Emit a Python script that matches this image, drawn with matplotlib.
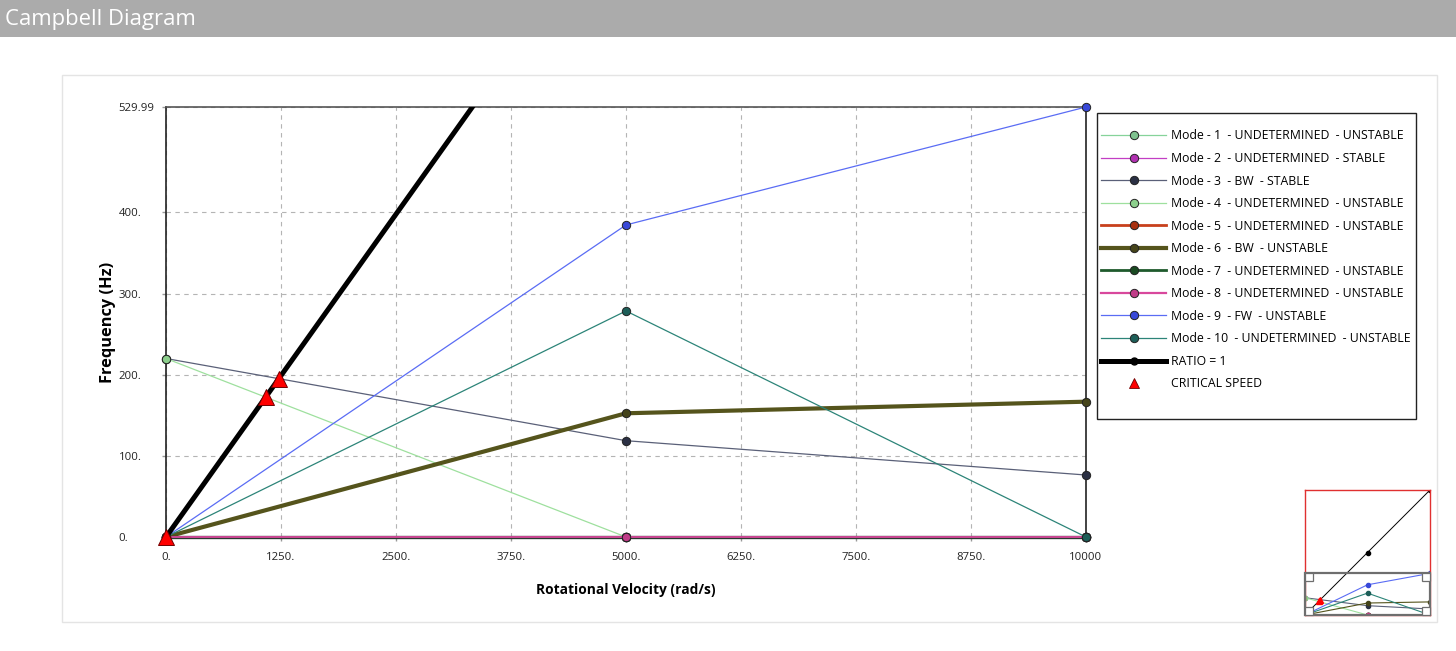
import matplotlib
matplotlib.use('Agg')
import matplotlib.pyplot as plt
from matplotlib.patches import Rectangle
from matplotlib.lines import Line2D

# Campbell diagram values (rad/s, Hz)
speeds = [0, 5000, 10000]
mode1 = [0.0, 0.0, 0.0]
mode2 = [0.0, 0.0, 0.0]
mode3 = [220.0, 118.7, 76.4]
mode4 = [220.0, 0.0, 0.0]
mode5 = [0.0, 0.0, 0.0]
mode6 = [0.0, 152.5, 166.8]
mode7 = [0.0, 0.0, 0.0]
mode8 = [0.0, 0.0, 0.0]
mode9 = [0.0, 384.6, 529.99]
mode10 = [0.0, 278.6, 0.0]
ratio1 = [0.0, 795.77, 1591.55]
crit_speed = [0, 1083, 1226]
crit_freq = [0.0, 172.4, 195.2]

mode_labels = [
    'Mode - 1  - UNDETERMINED  - UNSTABLE',
    'Mode - 2  - UNDETERMINED  - STABLE',
    'Mode - 3  - BW  - STABLE',
    'Mode - 4  - UNDETERMINED  - UNSTABLE',
    'Mode - 5  - UNDETERMINED  - UNSTABLE',
    'Mode - 6  - BW  - UNSTABLE',
    'Mode - 7  - UNDETERMINED  - UNSTABLE',
    'Mode - 8  - UNDETERMINED  - UNSTABLE',
    'Mode - 9  - FW  - UNSTABLE',
    'Mode - 10  - UNDETERMINED  - UNSTABLE',
]
modes = [mode1, mode2, mode3, mode4, mode5, mode6, mode7, mode8, mode9, mode10]

x_ticks = [0, 1250, 2500, 3750, 5000, 6250, 7500, 8750, 10000]
x_ticklabels = ['0.', '1250.', '2500.', '3750.', '5000.', '6250.', '7500.', '8750.', '10000']
y_ticks = [0, 100, 200, 300, 400, 529.99]
y_ticklabels = ['0.', '100.', '200.', '300.', '400.', '529.99']

# line colour, marker colour, line width
styles = [
    ('#86d39a', '#7fc28f', 0.9),
    ('#c23ec4', '#b030b0', 0.9),
    ('#5a6078', '#2b3044', 0.9),
    ('#9ee09e', '#8ccf8c', 0.9),
    ('#c8401c', '#a83010', 2.0),
    ('#55541c', '#45441a', 3.0),
    ('#1e5a2c', '#1a4a22', 2.0),
    ('#d8489c', '#c03c88', 1.6),
    ('#5a6cf4', '#3848d8', 0.9),
    ('#2c8478', '#1d5e58', 0.9),
]

plt.rcParams['font.family'] = ['Open Sans', 'DejaVu Sans']

W, H = 1456, 651
fig = plt.figure(figsize=(W / 100, H / 100), dpi=100)

def fx(px):
    return px / W

def fy(py):
    return 1 - py / H

# header bar
fig.patches.append(Rectangle((0, fy(37)), 1, 37 / H, transform=fig.transFigure,
                             facecolor='#ababab', edgecolor='none', zorder=-2))
fig.text(fx(5), fy(19), 'Campbell Diagram', color='white', fontsize=15.9,
         va='center', ha='left')

# outer panel
fig.patches.append(Rectangle((fx(62), fy(622)), fx(1437 - 62), (622 - 75) / H,
                             transform=fig.transFigure, facecolor='white',
                             edgecolor='#e4e4e4', lw=1, zorder=-2))

ax = fig.add_axes([fx(166), fy(537), fx(920), (537 - 107) / H])
ax.set_facecolor('none')

for i, (m, (lc, mc, lw)) in enumerate(zip(modes, styles)):
    if i == 6:
        lc, lw = '#2a3a30', 2.4
    if i == 7:
        lw = 1.3
    ax.plot(speeds, m, color=lc, lw=lw, marker='o', markersize=6,
            markerfacecolor=mc, markeredgecolor='#222222', markeredgewidth=0.7,
            zorder=3, clip_on=False)
ax.plot(speeds, ratio1, color='black', lw=3.6, zorder=4)
ax.plot(crit_speed, crit_freq, linestyle='none', marker='^', markersize=12,
        markerfacecolor='#ff0000', markeredgecolor='#700000',
        markeredgewidth=0.7, zorder=5, clip_on=False)

ax.set_xlim(0, 10000)
ax.set_ylim(0, 529.99)
ax.set_xticks(x_ticks)
ax.set_xticklabels(x_ticklabels)
ax.set_yticks(y_ticks)
ax.set_yticklabels(y_ticklabels, ha='left')
ax.tick_params(axis='both', labelsize=8.2, colors='#999999', labelcolor='#222222',
               length=3, width=1)
ax.tick_params(axis='x', pad=8)
ax.tick_params(axis='y', pad=31)
ax.grid(True, color='#b4b4b4', linestyle=(0, (4, 4)), lw=0.8)
for s in ax.spines.values():
    s.set_color('#222222')
    s.set_linewidth(1.2)
ax.spines['top'].set_color('#555555')
ax.set_xlabel('Rotational Velocity (rad/s)', fontsize=9.9, fontweight='bold', labelpad=14)
ax.set_ylabel('Frequency (Hz)', fontsize=11.8, fontweight='bold', va='center')
ax.yaxis.set_label_coords(-58 / 920, 0.5)

# legend
handles = []
for (lc, mc, lw) in styles:
    handles.append(Line2D([], [], color=lc, lw=lw, marker='o', markersize=6,
                          markerfacecolor=mc, markeredgecolor='#222222',
                          markeredgewidth=0.7))
handles.append(Line2D([], [], color='black', lw=3.6, marker='o', markersize=5,
                      markerfacecolor='black'))
handles.append(Line2D([], [], linestyle='none', marker='^', markersize=7,
                      markerfacecolor='#ff0000', markeredgecolor='#700000',
                      markeredgewidth=0.6))
labels = mode_labels + ['RATIO = 1', 'CRITICAL SPEED']
fig.patches.append(Rectangle((fx(1097), fy(419)), fx(1416 - 1097), (419 - 113) / H,
                             transform=fig.transFigure, facecolor='white',
                             edgecolor='#222222', lw=1, zorder=-1))
leg = fig.legend(handles, labels, loc='upper left',
                 bbox_to_anchor=(fx(1099), fy(127)), frameon=False,
                 fontsize=8.8, handlelength=5.3, handletextpad=0.4,
                 labelspacing=0.78, borderpad=0.2, borderaxespad=0)

# overview inset
ins = fig.add_axes([fx(1305), fy(615), fx(125), 125 / H])
ins.set_facecolor('none')
for m, (lc, mc, lw) in zip(modes, styles):
    ins.plot(speeds, m, color=lc, lw=0.8, marker='o', markersize=3,
             markerfacecolor=mc, markeredgecolor=mc)
ins.plot(speeds, ratio1, color='black', lw=0.7, marker='o', markersize=3)
ins.plot(crit_speed, crit_freq, linestyle='none', marker='^', markersize=4,
         color='#ff0000')
ins.set_xlim(0, 10000)
ins.set_ylim(0, 1591.55)
ins.set_xticks([])
ins.set_yticks([])
for s in ins.spines.values():
    s.set_color('#e03030')
    s.set_linewidth(1)
frac = 529.99 / 1591.55
ins.add_patch(Rectangle((0, 0), 1, frac, transform=ins.transAxes, fill=False,
                        edgecolor='#6e6e6e', lw=1.6, clip_on=False, zorder=6))
sw, sh = 8 / 125, 8 / 125
for (cx, cy) in [(0, frac - sh), (0, 0), (1 - sw, frac - sh), (1 - sw, 0)]:
    ins.add_patch(Rectangle((cx, cy), sw, sh, transform=ins.transAxes,
                            facecolor='white', edgecolor='#6e6e6e', lw=0.9,
                            clip_on=False, zorder=7))

fig.savefig('out.png', dpi=100)
